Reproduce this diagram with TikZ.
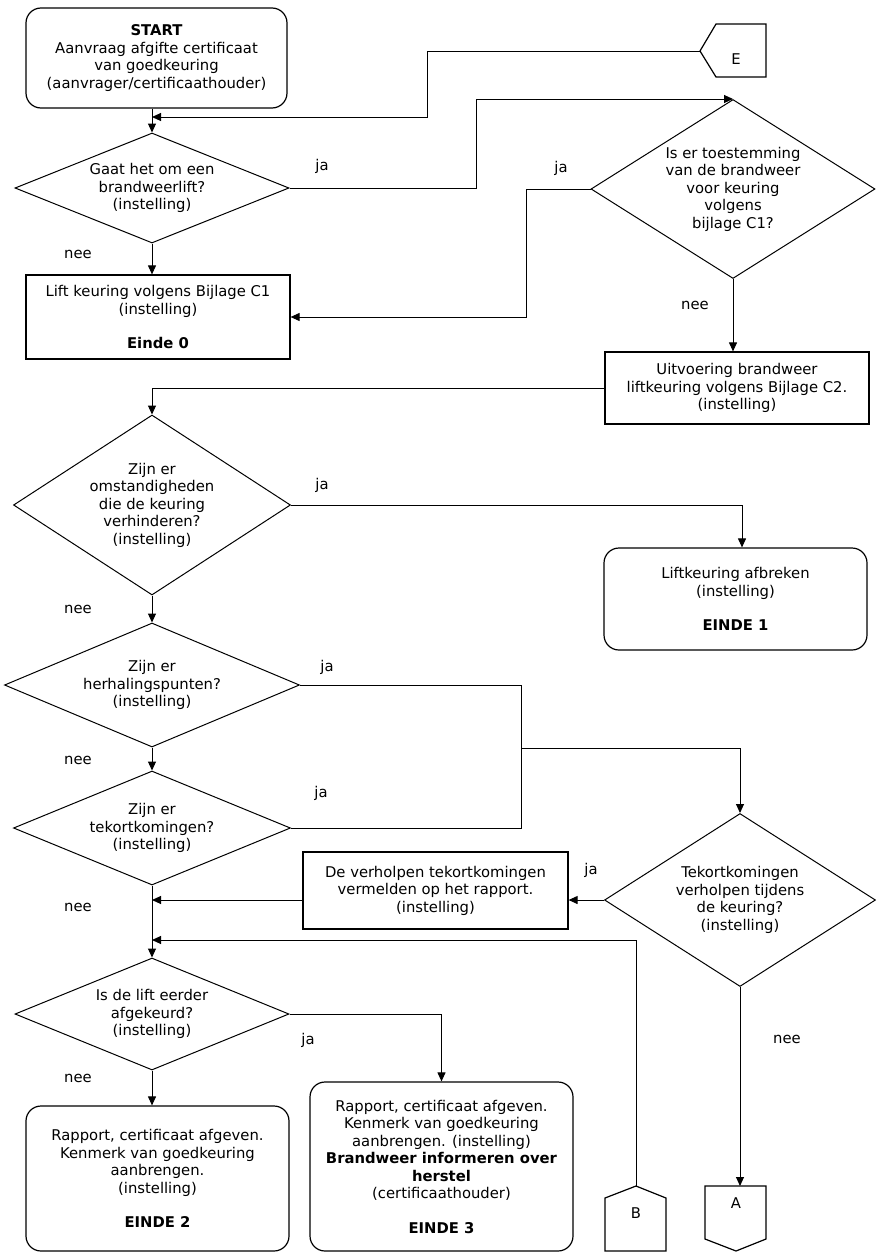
\documentclass[tikz,border=0pt]{standalone}
\usepackage{fontspec}
\setmainfont{DejaVu Sans}
\usetikzlibrary{shapes.geometric,arrows.meta,calc}
\begin{document}
\begin{tikzpicture}[x=1pt,y=-1pt,
  font=\fontsize{14.8}{17.5}\selectfont,
  every node/.style={align=center, inner sep=0pt},
  conn/.style={line width=1pt, -{Triangle[length=9pt,width=8pt]}},
  plain/.style={line width=1pt},
  procbox/.style={draw, line width=1.2pt, rectangle},
  endbox/.style={draw, line width=1.2pt, rectangle, rounded corners=15pt},
  decision/.style={draw, line width=1pt, diamond, inner sep=-40pt},
  connshape/.style={draw, line width=1.2pt, line join=miter},
  lbl/.style={inner sep=0pt}
]
\useasboundingbox (0,0) rectangle (886,1258);

% ---- nodes ----
\node[endbox, minimum width=261pt, minimum height=100pt] (start) at (156.5,58)
  {\textbf{START}\\Aanvraag afgifte certificaat\\van goedkeuring\\(aanvrager/certificaathouder)};

\coordinate (Etip) at (700,51);
\draw[connshape] (Etip) -- (716,24) -- (766,24) -- (766,77) -- (716,77) -- cycle;
\node (Elbl) at (736,59) {E};

\node[decision, minimum width=274pt, minimum height=110pt] (d1) at (152,188)
  {Gaat het om een\\brandweerlift?\\(instelling)};
\node[decision, minimum width=284pt, minimum height=179pt] (d2) at (733,189)
  {Is er toestemming\\van de brandweer\\voor keuring\\volgens\\bijlage C1?};
\node[procbox, minimum width=264pt, minimum height=84pt] (c1) at (158,317)
  {Lift keuring volgens Bijlage C1\\(instelling)\\[17pt]\textbf{Einde 0}};
\node[procbox, minimum width=264pt, minimum height=72pt] (uitv) at (737,388)
  {Uitvoering brandweer\\liftkeuring volgens Bijlage C2.\\(instelling)};
\node[decision, minimum width=277pt, minimum height=180pt] (d3) at (152,505)
  {Zijn er\\omstandigheden\\die de keuring\\verhinderen?\\(instelling)};
\node[endbox, minimum width=263pt, minimum height=102pt] (afbr) at (735.5,599)
  {Liftkeuring afbreken\\(instelling)\\[17pt]\textbf{EINDE 1}};
\node[decision, minimum width=295pt, minimum height=124pt] (d4) at (152,685)
  {Zijn er\\herhalingspunten?\\(instelling)};
\node[decision, minimum width=277pt, minimum height=114pt] (d5) at (152,828)
  {Zijn er\\tekortkomingen?\\(instelling)};
\node[decision, minimum width=271pt, minimum height=173pt] (d6) at (740,900)
  {Tekortkomingen\\verholpen tijdens\\de keuring?\\(instelling)};
\node[procbox, minimum width=265pt, minimum height=77pt] (verh) at (435.5,890.5)
  {De verholpen tekortkomingen\\vermelden op het rapport.\\(instelling)};
\node[decision, minimum width=274pt, minimum height=112pt] (d7) at (152,1014)
  {Is de lift eerder\\afgekeurd?\\(instelling)};
\node[endbox, minimum width=263pt, minimum height=145pt] (e2) at (157.5,1178.5)
  {Rapport, certificaat afgeven.\\Kenmerk van goedkeuring\\aanbrengen.\\(instelling)\\[17pt]\textbf{EINDE 2}};
\node[endbox, minimum width=263pt, minimum height=169pt] (e3) at (441.5,1166.5)
  {Rapport, certificaat afgeven.\\Kenmerk van goedkeuring\\aanbrengen. (instelling)\\\textbf{Brandweer informeren over}\\\textbf{herstel}\\(certificaathouder)\\[17pt]\textbf{EINDE 3}};

\coordinate (Btip) at (636,1186);
\draw[connshape] (Btip) -- (666,1198) -- (666,1251) -- (605,1251) -- (605,1198) -- cycle;
\node (Blbl) at (636,1213) {B};

\coordinate (Atop) at (736,1186);
\draw[connshape] (705,1186) -- (766,1186) -- (766,1239) -- (736,1251) -- (705,1239) -- cycle;
\node (Albl) at (736,1203) {A};

% ---- junction coordinates ----
\coordinate (jE) at (152,117);
\coordinate (jR) at (521,748);
\coordinate (jB) at (152,940);

% ---- connectors ----
\draw[conn] (start.south -| d1.north) -- (d1.north);
\draw[conn] (Etip) -- (427,51) -- (427,117) -- (jE);
\draw[conn] (d1.east) -- (476,188) -- (476,0 |- d2.north) -- (d2.north);
\draw[conn] (d2.west) -- (526,189) -- (526,317) -- (c1.east);
\draw[conn] (d1.south) -- (d1.south |- c1.north);
\draw[conn] (d2.south) -- (d2.south |- uitv.north);
\draw[conn] (uitv.west) -| (d3.north);
\draw[conn] (d3.east) -- (742,505) -- (742,0 |- afbr.north);
\draw[conn] (d3.south) -- (d4.north);
\draw[conn] (d4.south) -- (d5.north);
\draw[plain] (d4.east) -- (521,685) -- (521,828) -- (d5.east);
\draw[conn] (jR) -| (d6.north);
\draw[conn] (d6.west) -- (verh.east |- d6.west);
\draw[conn] (verh.west |- d6.west) -- (d5.south |- d6.west);
\draw[conn] (d5.south) -- (d7.north);
\draw[conn] (Btip) -- (636,940) -- (jB);
\draw[conn] (d7.east) -| (e3.north);
\draw[conn] (d7.south) -- (d7.south |- e2.north);
\draw[conn] (d6.south) -- (d6.south |- Atop);

% ---- labels ----
\node[lbl] (ja1) at (322,166) {ja};
\node[lbl] (ja2) at (561,168) {ja};
\node[lbl] (ja3) at (322,485) {ja};
\node[lbl] (ja4) at (327,667) {ja};
\node[lbl] (ja5) at (321,793) {ja};
\node[lbl] (ja6) at (591,870) {ja};
\node[lbl] (ja7) at (308,1040) {ja};
\node[lbl] (nee1) at (78,254) {nee};
\node[lbl] (nee2) at (695,305) {nee};
\node[lbl] (nee3) at (78,609) {nee};
\node[lbl] (nee4) at (78,760) {nee};
\node[lbl] (nee5) at (78,907) {nee};
\node[lbl] (nee6) at (78,1078) {nee};
\node[lbl] (nee7) at (787,1039) {nee};
\end{tikzpicture}
\end{document}
